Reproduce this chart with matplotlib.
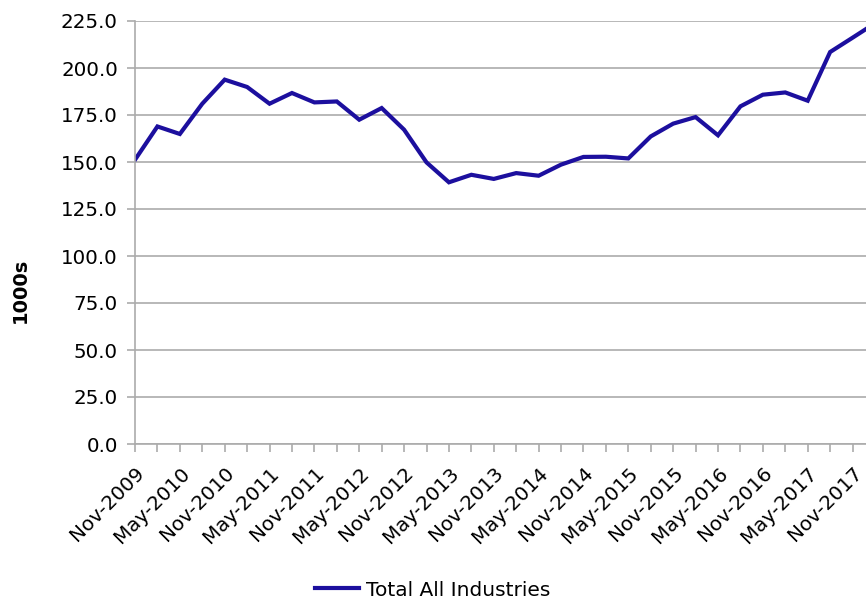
import matplotlib.pyplot as plt
from matplotlib.ticker import FormatStrFormatter

# quarterly series, Nov-2009 onwards (1000s)
quarters = ['Nov-2009', 'Feb-2010', 'May-2010', 'Aug-2010', 'Nov-2010', 'Feb-2011',
            'May-2011', 'Aug-2011', 'Nov-2011', 'Feb-2012', 'May-2012', 'Aug-2012',
            'Nov-2012', 'Feb-2013', 'May-2013', 'Aug-2013', 'Nov-2013', 'Feb-2014',
            'May-2014', 'Aug-2014', 'Nov-2014', 'Feb-2015', 'May-2015', 'Aug-2015',
            'Nov-2015', 'Feb-2016', 'May-2016', 'Aug-2016', 'Nov-2016', 'Feb-2017',
            'May-2017', 'Aug-2017', 'Nov-2017', 'Feb-2018']
total = [151.2, 168.9, 164.9, 181.0, 193.8, 189.9, 181.0, 186.7, 181.7, 182.2,
         172.5, 178.7, 167.2, 149.8, 139.2, 143.2, 141.0, 144.1, 142.7, 148.6,
         152.7, 152.8, 151.9, 163.6, 170.4, 173.9, 164.2, 179.6, 185.8, 187.0,
         182.6, 208.5, 216.1, 223.8]

grey = '#ababab'

fig = plt.figure(figsize=(8.66, 6.01), dpi=100)
ax = fig.add_axes([135 / 866, 157 / 601, 731 / 866, 423 / 601])

x = list(range(len(quarters)))
ax.plot(x, total, color='#1c0f9e', linewidth=3, label='Total All Industries',
        solid_joinstyle='miter')

ax.set_ylim(0, 225)
ax.set_xlim(0, 32.6)
ax.set_yticks([i * 25 for i in range(10)])
ax.yaxis.set_major_formatter(FormatStrFormatter('%.1f'))
ax.set_xticks(x[:33])
ax.set_xticklabels([q if i % 2 == 0 else '' for i, q in enumerate(quarters[:33])],
                   rotation=45, ha='right', rotation_mode='anchor')

ax.grid(axis='y', color=grey, linewidth=1.2)
ax.set_axisbelow(True)
for side in ['top', 'right']:
    ax.spines[side].set_visible(False)
for side in ['left', 'bottom']:
    ax.spines[side].set_color(grey)
    ax.spines[side].set_linewidth(1.2)
ax.tick_params(colors=grey, labelcolor='black', labelsize=14.3, length=6, width=1.2)
ax.tick_params(axis='y', pad=6.3)
ax.tick_params(axis='x', pad=8)

fig.text(20 / 866, 1 - 290 / 601, '1000s', rotation=90, fontsize=14,
         fontweight='bold', ha='center', va='center')

fig.legend(loc='center', bbox_to_anchor=(0.5, 1 - 590 / 601), frameon=False,
           fontsize=14.5, handlelength=2.2, handletextpad=0.35)

fig.savefig('out.png', dpi=100)
